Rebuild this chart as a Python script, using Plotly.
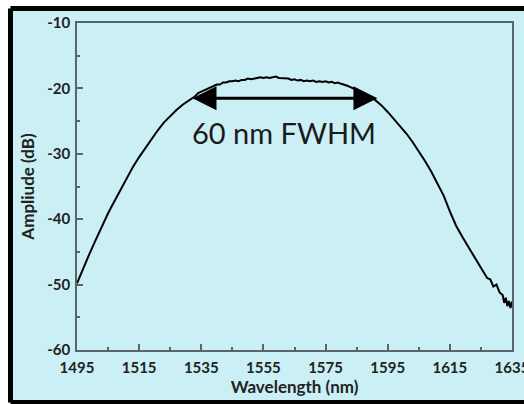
import plotly.graph_objects as go

# Measured gain spectrum
wavelength_nm = [
    1495, 1497, 1499, 1501, 1503, 1505, 1507, 1509, 1511, 1513, 1515, 1517,
    1519, 1521, 1523, 1525, 1527, 1529, 1531, 1533, 1534, 1535, 1536, 1537,
    1538, 1539, 1540, 1541, 1542, 1543, 1544, 1545, 1546, 1547, 1548, 1549,
    1550, 1551, 1552, 1553, 1554, 1555, 1556, 1557, 1558, 1559, 1560, 1561,
    1562, 1563, 1564, 1565, 1566, 1567, 1568, 1569, 1570, 1571, 1572, 1573,
    1574, 1575, 1576, 1577, 1578, 1579, 1580, 1581, 1582, 1583, 1584, 1585,
    1586, 1587, 1588, 1589, 1590, 1591, 1593, 1595, 1597, 1599, 1601, 1603,
    1605, 1607, 1609, 1611, 1613, 1615, 1617, 1619, 1621, 1623, 1625, 1626,
    1627, 1628, 1629, 1630, 1631, 1632, 1632.5, 1633, 1633.5, 1634, 1634.5, 1635,
]
amplitude_db = [
    -49.8, -47.5, -45.3, -43.2, -41.1, -39.1, -37.3, -35.5, -33.7, -32.0, -30.5, -29.1,
    -27.7, -26.4, -25.2, -24.2, -23.3, -22.5, -21.8, -21.2, -20.7, -20.5, -20.2, -20.0,
    -19.8, -19.7, -19.4, -19.4, -19.1, -19.1, -18.9, -18.9, -18.8, -18.9, -18.7, -18.7,
    -18.5, -18.6, -18.5, -18.5, -18.3, -18.4, -18.3, -18.4, -18.3, -18.2, -18.4, -18.4,
    -18.5, -18.5, -18.7, -18.6, -18.8, -18.7, -18.9, -18.8, -18.9, -18.8, -19.0, -18.9,
    -19.0, -18.9, -19.1, -19.0, -19.2, -19.1, -19.3, -19.4, -19.6, -19.8, -20.0, -20.3,
    -20.5, -20.8, -21.0, -21.3, -21.5, -21.8, -22.6, -23.6, -24.7, -25.7, -26.9, -28.2,
    -29.6, -31.1, -32.7, -34.5, -36.4, -38.8, -41.0, -42.7, -44.3, -45.9, -47.6, -48.2,
    -49.0, -49.2, -50.3, -50.0, -51.2, -51.6, -52.8, -52.0, -53.3, -52.5, -53.6, -52.6,
]

# Bandwidth marker: half-maximum edges
fwhm_edges_nm = [1531.7, 1591.7]
fwhm_level_db = -21.5
fwhm_label = "60 nm FWHM"

x_tickvals = [1495, 1515, 1535, 1555, 1575, 1595, 1615, 1635]
x_ticktext = ["1495", "1515", "1535", "1555", "1575", "1595", "1615", "1635"]
y_tickvals = [-60, -50, -40, -30, -20, -10]
y_ticktext = ["-60", "-50", "-40", "-30", "-20", "-10"]

BG = "#caf0f6"
AXIS = "#5b6467"
FONT = "Lato"

W, H = 524, 404
ML, MR, MT, MB = 77, 12, 23, 54
pw, ph = W - ML - MR, H - MT - MB


def px_to_paper_x(px):
    return (px - ML) / pw


def px_to_paper_y(py):
    return (H - MB - py) / ph


fig = go.Figure()
fig.add_trace(go.Scatter(
    x=wavelength_nm, y=amplitude_db, mode="lines",
    line=dict(color="black", width=2), showlegend=False,
))

# Framed panel behind the chart (open on the right, running off the page)
fx0, fx1 = px_to_paper_x(10.5), px_to_paper_x(560)
fy0, fy1 = px_to_paper_y(402.5), px_to_paper_y(8.5)
fig.add_shape(type="rect", xref="paper", yref="paper", layer="below",
              x0=fx0, x1=fx1, y0=fy0, y1=fy1,
              fillcolor=BG, line=dict(width=0))
for x0, y0, x1, y1 in [(fx0, fy0, fx0, fy1), (fx0, fy1, fx1, fy1), (fx0, fy0, fx1, fy0)]:
    fig.add_shape(type="line", xref="paper", yref="paper", layer="below",
                  x0=x0, y0=y0, x1=x1, y1=y1,
                  line=dict(color="black", width=5))

# Double-headed FWHM arrow
fig.add_annotation(
    x=fwhm_edges_nm[1], y=fwhm_level_db, ax=fwhm_edges_nm[0], ay=fwhm_level_db,
    xref="x", yref="y", axref="x", ayref="y", text="",
    showarrow=True, arrowhead=2, arrowside="end+start",
    arrowsize=1.6, arrowwidth=3, arrowcolor="black",
)
fig.add_annotation(
    x=sum(fwhm_edges_nm) / 2, y=-26.8, xref="x", yref="y",
    text=fwhm_label, showarrow=False,
    font=dict(family=FONT, size=29, color="#1a1a1a"),
)

tickfont = dict(family=FONT, size=15, color="#222222", weight="bold")
titlefont = dict(family=FONT, size=17, color="#222222", weight="bold")

fig.update_xaxes(
    range=[1495, 1635], tickvals=x_tickvals, ticktext=x_ticktext,
    ticks="inside", ticklen=6, tickwidth=1.5, tickcolor=AXIS,
    minor=dict(ticks="inside", ticklen=3, tickwidth=1.5, tickcolor=AXIS,
               tick0=1505, dtick=20, showgrid=False),
    showline=True, linecolor=AXIS, linewidth=1.5, mirror=True,
    showgrid=False, zeroline=False, tickfont=tickfont,
    ticklabeloverflow="allow", ticklabelstandoff=3, automargin=False,
    title=dict(text="Wavelength (nm)", font=titlefont, standoff=2),
)
fig.update_yaxes(
    range=[-60, -10], tickvals=y_tickvals, ticktext=y_ticktext,
    ticks="inside", ticklen=6, tickwidth=1.5, tickcolor=AXIS,
    minor=dict(ticks="inside", ticklen=3, tickwidth=1.5, tickcolor=AXIS,
               tick0=-55, dtick=10, showgrid=False),
    showline=True, linecolor=AXIS, linewidth=1.5, mirror=True,
    showgrid=False, zeroline=False, tickfont=tickfont,
    ticklabelstandoff=2, automargin=False,
    title=dict(text="Ampliude (dB)", font=titlefont, standoff=8),
)

fig.update_layout(
    width=W, height=H,
    margin=dict(l=ML, r=MR, t=MT, b=MB, pad=0, autoexpand=False),
    paper_bgcolor="white", plot_bgcolor=BG,
)

fig.write_html("out.html")
